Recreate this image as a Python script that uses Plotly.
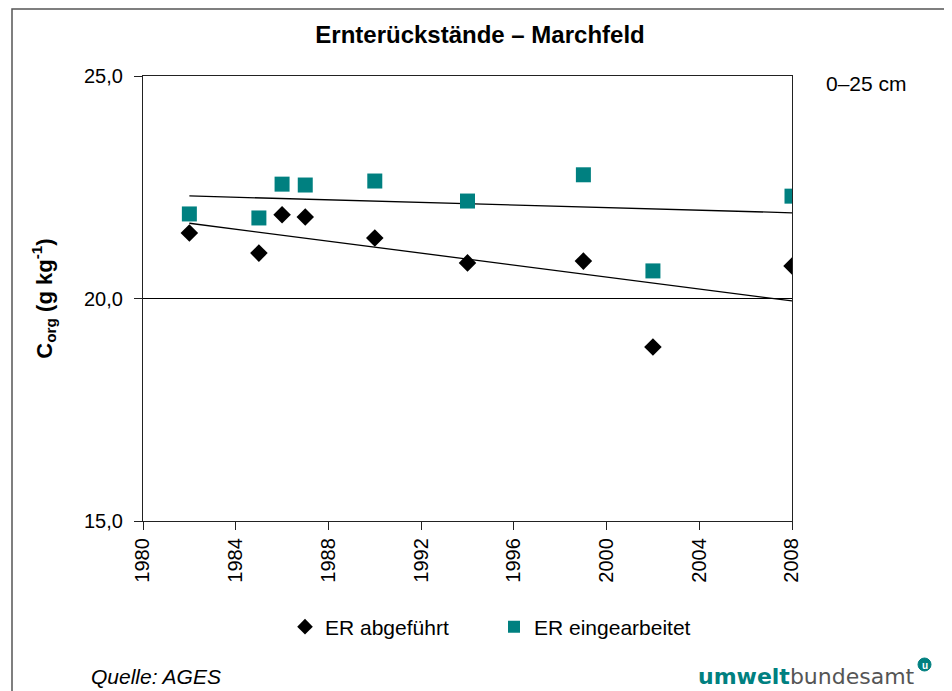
import numpy as np
import plotly.graph_objects as go

years = [1982, 1985, 1986, 1987, 1990, 1994, 1999, 2002, 2008]
er_abgefuehrt = [21.47, 21.02, 21.88, 21.83, 21.36, 20.80, 20.84, 18.91, 20.73]
er_eingearbeitet = [21.90, 21.81, 22.57, 22.55, 22.64, 22.19, 22.78, 20.62, 22.30]
x_ticks = [1980, 1984, 1988, 1992, 1996, 2000, 2004, 2008]
y_ticks = [15, 20, 25]

TEAL = "#008080"
FONT = "Liberation Sans, Arial, sans-serif"

# page pixel -> paper coords (plot area spans x 143..792, y 76..521 on the page)
def px(x):
    return (x - 143) / 649


def py(y):
    return (521 - y) / 445


fig = go.Figure()

# trend lines (linear regression of each series)
for vals in (er_eingearbeitet, er_abgefuehrt):
    k, d = np.polyfit(years, vals, 1)
    xs = [min(years), max(years)]
    fig.add_trace(go.Scatter(x=xs, y=[k * v + d for v in xs], mode="lines",
                             line=dict(color="black", width=1.3),
                             showlegend=False, hoverinfo="skip"))

fig.add_trace(go.Scatter(x=years, y=er_abgefuehrt, mode="markers", name="ER abgeführt",
                         marker=dict(symbol="diamond", size=13.5, color="black")))
fig.add_trace(go.Scatter(x=years, y=er_eingearbeitet, mode="markers", name="ER eingearbeitet",
                         marker=dict(symbol="square", size=15, color=TEAL)))

fig.update_layout(
    width=944, height=683,
    margin=dict(l=135, r=160, t=68, b=170),
    paper_bgcolor="white", plot_bgcolor="white",
    font=dict(family=FONT, size=20, color="black"),
    separators=",.",
    title=dict(text="<b>Ernterückstände – Marchfeld</b>", x=(480 - 8) / 944, xanchor="center",
               y=1 - (35 - 8) / 683, yanchor="middle", font=dict(size=24)),
    xaxis=dict(range=[1980, 2008], tickvals=x_ticks, tickangle=-90,
               showline=True, linecolor="#222222", linewidth=1.3, mirror=True,
               ticks="outside", ticklen=8, tickcolor="#222222", showgrid=False,
               zeroline=False, tickfont=dict(size=20)),
    yaxis=dict(range=[15, 25], tickvals=y_ticks, tickformat=".1f",
               showline=True, linecolor="#222222", linewidth=1.3, mirror=True,
               ticks="outside", ticklen=8, tickcolor="#222222",
               showgrid=True, gridcolor="black", gridwidth=1,
               zeroline=False, tickfont=dict(size=20), ticklabelstandoff=7,
               title=dict(text="<b>C<sub>org</sub> (g kg<sup>-1</sup>)</b>", standoff=25,
                          font=dict(size=22))),
    legend=dict(orientation="h", x=px(285), xanchor="left", y=py(627),
                yanchor="middle", font=dict(size=21), itemsizing="constant",
                bgcolor="rgba(0,0,0,0)", itemwidth=30, tracegroupgap=0,
                entrywidth=164, entrywidthmode="pixels"),
    showlegend=True,
)

fig.add_annotation(text="0–25 cm", xref="paper", yref="paper", x=px(824),
                   y=py(84), xanchor="left", yanchor="middle",
                   showarrow=False, font=dict(size=21))
fig.add_annotation(text="<i>Quelle: AGES</i>", xref="paper", yref="paper",
                   x=px(89), y=py(676), xanchor="left",
                   yanchor="middle", showarrow=False, font=dict(size=21))
fig.add_annotation(text="<b><span style='color:#008080'>umwelt</span></b>"
                        "<span style='color:#555555'>bundesamt</span>",
                   xref="paper", yref="paper", x=px(917), y=py(676),
                   xanchor="right", yanchor="middle", showarrow=False,
                   font=dict(size=22, family="DejaVu Sans, sans-serif"))
# logo circle
fig.add_shape(type="circle", xref="paper", yref="paper",
              x0=px(918), x1=px(931), y0=py(671), y1=py(658),
              fillcolor=TEAL, line=dict(color=TEAL, width=1))
fig.add_annotation(text="<b>u</b>", xref="paper", yref="paper",
                   x=px(924.5), y=py(665), xanchor="center",
                   yanchor="middle", showarrow=False,
                   font=dict(size=10, color="white"))
# outer frame
fig.add_shape(type="rect", xref="paper", yref="paper",
              x0=px(12), x1=px(975), y0=py(710), y1=py(9),
              line=dict(color="#555555", width=1.5), fillcolor="rgba(0,0,0,0)")

fig.write_html("out.html")
